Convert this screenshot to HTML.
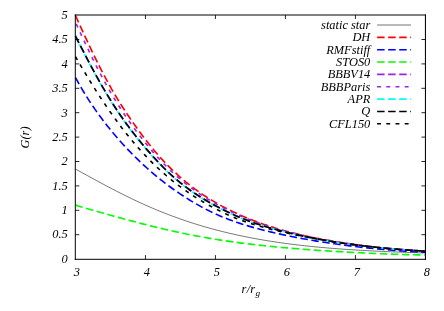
<!DOCTYPE html>
<html><head><meta charset="utf-8"><style>
html,body{margin:0;padding:0;background:#fff;}
svg{display:block;will-change:transform}
text{font-family:"Liberation Serif",serif;font-style:italic;font-size:12.4px;fill:#000}
</style></head><body>
<svg width="444" height="311" viewBox="0 0 444 311">
<rect width="444" height="311" fill="#fff"/>
<path d="M75.45,169.08 L77.20,170.02 L78.95,170.97 L80.70,171.92 L82.45,172.88 L84.20,173.83 L85.95,174.79 L87.70,175.74 L89.45,176.70 L91.20,177.66 L92.95,178.61 L94.70,179.57 L96.45,180.52 L98.20,181.47 L99.95,182.41 L101.70,183.36 L103.45,184.30 L105.20,185.23 L106.95,186.16 L108.70,187.09 L110.44,188.01 L112.19,188.93 L113.94,189.84 L115.69,190.74 L117.44,191.64 L119.19,192.54 L120.94,193.42 L122.69,194.30 L124.44,195.18 L126.19,196.04 L127.94,196.90 L129.69,197.75 L131.44,198.60 L133.19,199.44 L134.94,200.27 L136.69,201.09 L138.44,201.90 L140.19,202.71 L141.94,203.51 L143.69,204.30 L145.44,205.08 L147.19,205.85 L148.94,206.62 L150.69,207.38 L152.44,208.13 L154.19,208.87 L155.94,209.60 L157.69,210.33 L159.44,211.05 L161.19,211.75 L162.94,212.46 L164.69,213.15 L166.44,213.83 L168.19,214.51 L169.94,215.18 L171.69,215.83 L173.44,216.49 L175.19,217.13 L176.94,217.76 L178.69,218.39 L180.44,219.01 L182.18,219.62 L183.93,220.22 L185.68,220.82 L187.43,221.40 L189.18,221.98 L190.93,222.55 L192.68,223.12 L194.43,223.67 L196.18,224.22 L197.93,224.76 L199.68,225.29 L201.43,225.82 L203.18,226.34 L204.93,226.85 L206.68,227.35 L208.43,227.85 L210.18,228.33 L211.93,228.82 L213.68,229.29 L215.43,229.76 L217.18,230.22 L218.93,230.67 L220.68,231.12 L222.43,231.56 L224.18,231.99 L225.93,232.42 L227.68,232.83 L229.43,233.25 L231.18,233.65 L232.93,234.05 L234.68,234.45 L236.43,234.83 L238.18,235.22 L239.93,235.59 L241.68,235.96 L243.43,236.32 L245.18,236.68 L246.93,237.03 L248.68,237.38 L250.43,237.72 L252.17,238.05 L253.92,238.38 L255.67,238.70 L257.42,239.02 L259.17,239.33 L260.92,239.64 L262.67,239.94 L264.42,240.23 L266.17,240.52 L267.92,240.81 L269.67,241.09 L271.42,241.36 L273.17,241.63 L274.92,241.90 L276.67,242.16 L278.42,242.42 L280.17,242.67 L281.92,242.92 L283.67,243.16 L285.42,243.40 L287.17,243.63 L288.92,243.86 L290.67,244.09 L292.42,244.31 L294.17,244.53 L295.92,244.74 L297.67,244.95 L299.42,245.15 L301.17,245.35 L302.92,245.55 L304.67,245.74 L306.42,245.93 L308.17,246.12 L309.92,246.30 L311.67,246.48 L313.42,246.66 L315.17,246.83 L316.92,247.00 L318.67,247.16 L320.42,247.33 L322.16,247.49 L323.91,247.64 L325.66,247.79 L327.41,247.94 L329.16,248.09 L330.91,248.24 L332.66,248.38 L334.41,248.52 L336.16,248.65 L337.91,248.78 L339.66,248.91 L341.41,249.04 L343.16,249.17 L344.91,249.29 L346.66,249.41 L348.41,249.53 L350.16,249.64 L351.91,249.76 L353.66,249.87 L355.41,249.98 L357.16,250.08 L358.91,250.19 L360.66,250.29 L362.41,250.39 L364.16,250.49 L365.91,250.58 L367.66,250.68 L369.41,250.77 L371.16,250.86 L372.91,250.95 L374.66,251.04 L376.41,251.12 L378.16,251.21 L379.91,251.29 L381.66,251.37 L383.41,251.45 L385.16,251.53 L386.91,251.61 L388.66,251.68 L390.40,251.76 L392.15,251.83 L393.90,251.90 L395.65,251.97 L397.40,252.04 L399.15,252.11 L400.90,252.17 L402.65,252.24 L404.40,252.30 L406.15,252.37 L407.90,252.43 L409.65,252.49 L411.40,252.56 L413.15,252.62 L414.90,252.68 L416.65,252.73 L418.40,252.79 L420.15,252.85 L421.90,252.91 L423.65,252.97 L425.40,253.02" fill="none" stroke="#000" stroke-width="0.55"/>
<path d="M75.45,15.50 L77.20,19.36 L78.95,23.21 L80.70,27.05 L82.45,30.87 L84.20,34.68 L85.95,38.46 L87.70,42.21 L89.45,45.93 L91.20,49.62 L92.95,53.26 L94.70,56.86 L96.45,60.42 L98.20,63.93 L99.95,67.38 L101.70,70.79 L103.45,74.14 L105.20,77.43 L106.95,80.67 L108.70,83.85 L110.44,86.98 L112.19,90.04 L113.94,93.05 L115.69,96.01 L117.44,98.91 L119.19,101.75 L120.94,104.55 L122.69,107.29 L124.44,109.99 L126.19,112.65 L127.94,115.26 L129.69,117.83 L131.44,120.37 L133.19,122.87 L134.94,125.33 L136.69,127.77 L138.44,130.17 L140.19,132.55 L141.94,134.89 L143.69,137.20 L145.44,139.49 L147.19,141.74 L148.94,143.96 L150.69,146.15 L152.44,148.30 L154.19,150.41 L155.94,152.49 L157.69,154.53 L159.44,156.52 L161.19,158.48 L162.94,160.39 L164.69,162.25 L166.44,164.08 L168.19,165.87 L169.94,167.61 L171.69,169.32 L173.44,170.99 L175.19,172.62 L176.94,174.22 L178.69,175.78 L180.44,177.32 L182.18,178.83 L183.93,180.31 L185.68,181.76 L187.43,183.18 L189.18,184.58 L190.93,185.95 L192.68,187.29 L194.43,188.61 L196.18,189.90 L197.93,191.16 L199.68,192.40 L201.43,193.62 L203.18,194.80 L204.93,195.96 L206.68,197.10 L208.43,198.21 L210.18,199.30 L211.93,200.37 L213.68,201.42 L215.43,202.44 L217.18,203.45 L218.93,204.43 L220.68,205.40 L222.43,206.34 L224.18,207.27 L225.93,208.19 L227.68,209.08 L229.43,209.96 L231.18,210.82 L232.93,211.67 L234.68,212.50 L236.43,213.32 L238.18,214.12 L239.93,214.91 L241.68,215.68 L243.43,216.44 L245.18,217.18 L246.93,217.91 L248.68,218.63 L250.43,219.33 L252.17,220.02 L253.92,220.70 L255.67,221.37 L257.42,222.02 L259.17,222.66 L260.92,223.29 L262.67,223.91 L264.42,224.51 L266.17,225.11 L267.92,225.69 L269.67,226.26 L271.42,226.82 L273.17,227.37 L274.92,227.91 L276.67,228.44 L278.42,228.96 L280.17,229.47 L281.92,229.97 L283.67,230.46 L285.42,230.94 L287.17,231.42 L288.92,231.88 L290.67,232.33 L292.42,232.78 L294.17,233.22 L295.92,233.65 L297.67,234.07 L299.42,234.49 L301.17,234.89 L302.92,235.29 L304.67,235.69 L306.42,236.07 L308.17,236.45 L309.92,236.83 L311.67,237.20 L313.42,237.56 L315.17,237.91 L316.92,238.26 L318.67,238.60 L320.42,238.94 L322.16,239.27 L323.91,239.60 L325.66,239.92 L327.41,240.24 L329.16,240.55 L330.91,240.86 L332.66,241.16 L334.41,241.46 L336.16,241.75 L337.91,242.03 L339.66,242.32 L341.41,242.59 L343.16,242.87 L344.91,243.13 L346.66,243.40 L348.41,243.66 L350.16,243.91 L351.91,244.16 L353.66,244.40 L355.41,244.64 L357.16,244.88 L358.91,245.11 L360.66,245.34 L362.41,245.56 L364.16,245.78 L365.91,245.99 L367.66,246.20 L369.41,246.41 L371.16,246.61 L372.91,246.80 L374.66,247.00 L376.41,247.19 L378.16,247.37 L379.91,247.55 L381.66,247.73 L383.41,247.90 L385.16,248.07 L386.91,248.24 L388.66,248.40 L390.40,248.56 L392.15,248.72 L393.90,248.87 L395.65,249.02 L397.40,249.17 L399.15,249.31 L400.90,249.46 L402.65,249.59 L404.40,249.73 L406.15,249.87 L407.90,250.00 L409.65,250.13 L411.40,250.26 L413.15,250.38 L414.90,250.51 L416.65,250.63 L418.40,250.75 L420.15,250.87 L421.90,250.99 L423.65,251.10 L425.40,251.22" fill="none" stroke="#ff0000" stroke-width="1.62" stroke-dasharray="7.5 3.55"/>
<path d="M75.45,77.52 L77.20,80.72 L78.95,83.85 L80.70,86.89 L82.45,89.86 L84.20,92.76 L85.95,95.59 L87.70,98.36 L89.45,101.07 L91.20,103.72 L92.95,106.32 L94.70,108.87 L96.45,111.36 L98.20,113.81 L99.95,116.21 L101.70,118.57 L103.45,120.89 L105.20,123.17 L106.95,125.40 L108.70,127.60 L110.44,129.76 L112.19,131.89 L113.94,133.98 L115.69,136.04 L117.44,138.07 L119.19,140.07 L120.94,142.03 L122.69,143.97 L124.44,145.88 L126.19,147.75 L127.94,149.60 L129.69,151.43 L131.44,153.22 L133.19,154.99 L134.94,156.73 L136.69,158.45 L138.44,160.15 L140.19,161.81 L141.94,163.46 L143.69,165.08 L145.44,166.67 L147.19,168.25 L148.94,169.80 L150.69,171.33 L152.44,172.83 L154.19,174.32 L155.94,175.78 L157.69,177.22 L159.44,178.64 L161.19,180.04 L162.94,181.42 L164.69,182.78 L166.44,184.12 L168.19,185.44 L169.94,186.74 L171.69,188.01 L173.44,189.27 L175.19,190.52 L176.94,191.74 L178.69,192.94 L180.44,194.12 L182.18,195.29 L183.93,196.43 L185.68,197.56 L187.43,198.67 L189.18,199.75 L190.93,200.83 L192.68,201.88 L194.43,202.91 L196.18,203.92 L197.93,204.92 L199.68,205.89 L201.43,206.85 L203.18,207.79 L204.93,208.71 L206.68,209.61 L208.43,210.49 L210.18,211.36 L211.93,212.20 L213.68,213.03 L215.43,213.83 L217.18,214.62 L218.93,215.40 L220.68,216.15 L222.43,216.89 L224.18,217.61 L225.93,218.31 L227.68,219.00 L229.43,219.67 L231.18,220.32 L232.93,220.96 L234.68,221.59 L236.43,222.20 L238.18,222.79 L239.93,223.38 L241.68,223.95 L243.43,224.50 L245.18,225.05 L246.93,225.59 L248.68,226.11 L250.43,226.62 L252.17,227.12 L253.92,227.62 L255.67,228.10 L257.42,228.58 L259.17,229.05 L260.92,229.50 L262.67,229.96 L264.42,230.40 L266.17,230.84 L267.92,231.27 L269.67,231.69 L271.42,232.11 L273.17,232.52 L274.92,232.92 L276.67,233.32 L278.42,233.71 L280.17,234.10 L281.92,234.48 L283.67,234.86 L285.42,235.23 L287.17,235.60 L288.92,235.96 L290.67,236.32 L292.42,236.67 L294.17,237.02 L295.92,237.36 L297.67,237.70 L299.42,238.03 L301.17,238.36 L302.92,238.68 L304.67,239.00 L306.42,239.32 L308.17,239.63 L309.92,239.93 L311.67,240.23 L313.42,240.53 L315.17,240.83 L316.92,241.12 L318.67,241.40 L320.42,241.68 L322.16,241.96 L323.91,242.23 L325.66,242.50 L327.41,242.77 L329.16,243.03 L330.91,243.29 L332.66,243.55 L334.41,243.80 L336.16,244.04 L337.91,244.29 L339.66,244.53 L341.41,244.77 L343.16,245.00 L344.91,245.23 L346.66,245.46 L348.41,245.68 L350.16,245.90 L351.91,246.12 L353.66,246.33 L355.41,246.54 L357.16,246.75 L358.91,246.95 L360.66,247.15 L362.41,247.35 L364.16,247.54 L365.91,247.73 L367.66,247.92 L369.41,248.10 L371.16,248.28 L372.91,248.46 L374.66,248.64 L376.41,248.81 L378.16,248.98 L379.91,249.14 L381.66,249.30 L383.41,249.46 L385.16,249.62 L386.91,249.77 L388.66,249.92 L390.40,250.06 L392.15,250.21 L393.90,250.35 L395.65,250.48 L397.40,250.62 L399.15,250.74 L400.90,250.87 L402.65,250.99 L404.40,251.11 L406.15,251.23 L407.90,251.34 L409.65,251.45 L411.40,251.56 L413.15,251.66 L414.90,251.76 L416.65,251.86 L418.40,251.95 L420.15,252.04 L421.90,252.12 L423.65,252.21 L425.40,252.28" fill="none" stroke="#0000ff" stroke-width="1.62" stroke-dasharray="7.5 3.55"/>
<path d="M75.45,205.09 L77.20,205.62 L78.95,206.16 L80.70,206.68 L82.45,207.20 L84.20,207.72 L85.95,208.23 L87.70,208.74 L89.45,209.25 L91.20,209.76 L92.95,210.26 L94.70,210.76 L96.45,211.26 L98.20,211.76 L99.95,212.25 L101.70,212.74 L103.45,213.24 L105.20,213.73 L106.95,214.21 L108.70,214.70 L110.44,215.19 L112.19,215.67 L113.94,216.16 L115.69,216.64 L117.44,217.12 L119.19,217.60 L120.94,218.07 L122.69,218.55 L124.44,219.02 L126.19,219.49 L127.94,219.96 L129.69,220.43 L131.44,220.90 L133.19,221.36 L134.94,221.82 L136.69,222.28 L138.44,222.74 L140.19,223.19 L141.94,223.65 L143.69,224.09 L145.44,224.54 L147.19,224.98 L148.94,225.42 L150.69,225.86 L152.44,226.30 L154.19,226.73 L155.94,227.15 L157.69,227.58 L159.44,228.00 L161.19,228.41 L162.94,228.83 L164.69,229.24 L166.44,229.64 L168.19,230.04 L169.94,230.44 L171.69,230.83 L173.44,231.22 L175.19,231.61 L176.94,231.99 L178.69,232.37 L180.44,232.74 L182.18,233.11 L183.93,233.47 L185.68,233.83 L187.43,234.19 L189.18,234.54 L190.93,234.88 L192.68,235.22 L194.43,235.56 L196.18,235.89 L197.93,236.22 L199.68,236.55 L201.43,236.87 L203.18,237.18 L204.93,237.49 L206.68,237.80 L208.43,238.10 L210.18,238.40 L211.93,238.70 L213.68,238.99 L215.43,239.27 L217.18,239.55 L218.93,239.83 L220.68,240.10 L222.43,240.37 L224.18,240.64 L225.93,240.90 L227.68,241.16 L229.43,241.41 L231.18,241.66 L232.93,241.90 L234.68,242.15 L236.43,242.38 L238.18,242.62 L239.93,242.85 L241.68,243.08 L243.43,243.30 L245.18,243.52 L246.93,243.74 L248.68,243.95 L250.43,244.16 L252.17,244.37 L253.92,244.57 L255.67,244.77 L257.42,244.97 L259.17,245.16 L260.92,245.36 L262.67,245.55 L264.42,245.73 L266.17,245.91 L267.92,246.10 L269.67,246.27 L271.42,246.45 L273.17,246.62 L274.92,246.79 L276.67,246.96 L278.42,247.12 L280.17,247.29 L281.92,247.45 L283.67,247.60 L285.42,247.76 L287.17,247.91 L288.92,248.07 L290.67,248.22 L292.42,248.36 L294.17,248.51 L295.92,248.65 L297.67,248.79 L299.42,248.93 L301.17,249.07 L302.92,249.21 L304.67,249.34 L306.42,249.47 L308.17,249.60 L309.92,249.73 L311.67,249.86 L313.42,249.98 L315.17,250.11 L316.92,250.23 L318.67,250.35 L320.42,250.47 L322.16,250.58 L323.91,250.70 L325.66,250.81 L327.41,250.93 L329.16,251.04 L330.91,251.15 L332.66,251.26 L334.41,251.36 L336.16,251.47 L337.91,251.57 L339.66,251.68 L341.41,251.78 L343.16,251.88 L344.91,251.98 L346.66,252.08 L348.41,252.17 L350.16,252.27 L351.91,252.36 L353.66,252.45 L355.41,252.54 L357.16,252.63 L358.91,252.72 L360.66,252.81 L362.41,252.89 L364.16,252.98 L365.91,253.06 L367.66,253.14 L369.41,253.22 L371.16,253.30 L372.91,253.38 L374.66,253.45 L376.41,253.53 L378.16,253.60 L379.91,253.67 L381.66,253.74 L383.41,253.81 L385.16,253.88 L386.91,253.95 L388.66,254.01 L390.40,254.08 L392.15,254.14 L393.90,254.20 L395.65,254.26 L397.40,254.31 L399.15,254.37 L400.90,254.42 L402.65,254.48 L404.40,254.53 L406.15,254.58 L407.90,254.63 L409.65,254.67 L411.40,254.72 L413.15,254.76 L414.90,254.80 L416.65,254.84 L418.40,254.88 L420.15,254.91 L421.90,254.95 L423.65,254.98 L425.40,255.01" fill="none" stroke="#00ff00" stroke-width="1.62" stroke-dasharray="7.5 3.55"/>
<path d="M75.45,36.14 L77.20,39.53 L78.95,42.93 L80.70,46.32 L82.45,49.70 L84.20,53.07 L85.95,56.42 L87.70,59.76 L89.45,63.07 L91.20,66.35 L92.95,69.61 L94.70,72.83 L96.45,76.02 L98.20,79.17 L99.95,82.28 L101.70,85.35 L103.45,88.37 L105.20,91.35 L106.95,94.29 L108.70,97.17 L110.44,100.01 L112.19,102.80 L113.94,105.55 L115.69,108.24 L117.44,110.89 L119.19,113.49 L120.94,116.04 L122.69,118.55 L124.44,121.02 L126.19,123.44 L127.94,125.83 L129.69,128.18 L131.44,130.49 L133.19,132.76 L134.94,135.00 L136.69,137.21 L138.44,139.39 L140.19,141.55 L141.94,143.67 L143.69,145.76 L145.44,147.83 L147.19,149.87 L148.94,151.89 L150.69,153.88 L152.44,155.83 L154.19,157.76 L155.94,159.67 L157.69,161.54 L159.44,163.38 L161.19,165.18 L162.94,166.96 L164.69,168.70 L166.44,170.41 L168.19,172.08 L169.94,173.72 L171.69,175.32 L173.44,176.89 L175.19,178.42 L176.94,179.92 L178.69,181.38 L180.44,182.81 L182.18,184.20 L183.93,185.57 L185.68,186.90 L187.43,188.20 L189.18,189.48 L190.93,190.72 L192.68,191.94 L194.43,193.13 L196.18,194.29 L197.93,195.44 L199.68,196.55 L201.43,197.65 L203.18,198.73 L204.93,199.78 L206.68,200.82 L208.43,201.83 L210.18,202.83 L211.93,203.81 L213.68,204.78 L215.43,205.72 L217.18,206.66 L218.93,207.57 L220.68,208.47 L222.43,209.36 L224.18,210.23 L225.93,211.09 L227.68,211.93 L229.43,212.76 L231.18,213.58 L232.93,214.38 L234.68,215.16 L236.43,215.93 L238.18,216.69 L239.93,217.43 L241.68,218.15 L243.43,218.86 L245.18,219.56 L246.93,220.24 L248.68,220.90 L250.43,221.55 L252.17,222.18 L253.92,222.80 L255.67,223.40 L257.42,223.99 L259.17,224.56 L260.92,225.12 L262.67,225.67 L264.42,226.21 L266.17,226.73 L267.92,227.25 L269.67,227.75 L271.42,228.25 L273.17,228.73 L274.92,229.21 L276.67,229.68 L278.42,230.15 L280.17,230.60 L281.92,231.05 L283.67,231.49 L285.42,231.93 L287.17,232.36 L288.92,232.78 L290.67,233.20 L292.42,233.62 L294.17,234.03 L295.92,234.43 L297.67,234.82 L299.42,235.22 L301.17,235.60 L302.92,235.98 L304.67,236.36 L306.42,236.72 L308.17,237.09 L309.92,237.44 L311.67,237.80 L313.42,238.14 L315.17,238.48 L316.92,238.82 L318.67,239.15 L320.42,239.47 L322.16,239.79 L323.91,240.10 L325.66,240.41 L327.41,240.71 L329.16,241.01 L330.91,241.30 L332.66,241.59 L334.41,241.87 L336.16,242.15 L337.91,242.42 L339.66,242.68 L341.41,242.95 L343.16,243.20 L344.91,243.46 L346.66,243.70 L348.41,243.95 L350.16,244.19 L351.91,244.42 L353.66,244.65 L355.41,244.88 L357.16,245.10 L358.91,245.32 L360.66,245.54 L362.41,245.75 L364.16,245.95 L365.91,246.16 L367.66,246.36 L369.41,246.55 L371.16,246.74 L372.91,246.93 L374.66,247.12 L376.41,247.30 L378.16,247.47 L379.91,247.65 L381.66,247.82 L383.41,247.99 L385.16,248.15 L386.91,248.32 L388.66,248.48 L390.40,248.63 L392.15,248.78 L393.90,248.94 L395.65,249.08 L397.40,249.23 L399.15,249.37 L400.90,249.51 L402.65,249.65 L404.40,249.78 L406.15,249.91 L407.90,250.04 L409.65,250.17 L411.40,250.29 L413.15,250.42 L414.90,250.54 L416.65,250.66 L418.40,250.77 L420.15,250.89 L421.90,251.00 L423.65,251.11 L425.40,251.22" fill="none" stroke="#a020f0" stroke-width="1.62" stroke-dasharray="7.5 3.55"/>
<path d="M75.45,22.32 L77.20,26.11 L78.95,29.89 L80.70,33.66 L82.45,37.41 L84.20,41.14 L85.95,44.84 L87.70,48.51 L89.45,52.15 L91.20,55.75 L92.95,59.30 L94.70,62.82 L96.45,66.28 L98.20,69.70 L99.95,73.07 L101.70,76.38 L103.45,79.64 L105.20,82.85 L106.95,86.00 L108.70,89.09 L110.44,92.12 L112.19,95.10 L113.94,98.02 L115.69,100.89 L117.44,103.71 L119.19,106.47 L120.94,109.18 L122.69,111.84 L124.44,114.46 L126.19,117.04 L127.94,119.56 L129.69,122.05 L131.44,124.50 L133.19,126.91 L134.94,129.29 L136.69,131.63 L138.44,133.95 L140.19,136.23 L141.94,138.48 L143.69,140.71 L145.44,142.90 L147.19,145.06 L148.94,147.20 L150.69,149.30 L152.44,151.36 L154.19,153.39 L155.94,155.38 L157.69,157.34 L159.44,159.25 L161.19,161.13 L162.94,162.97 L164.69,164.76 L166.44,166.52 L168.19,168.24 L169.94,169.91 L171.69,171.56 L173.44,173.16 L175.19,174.74 L176.94,176.28 L178.69,177.80 L180.44,179.28 L182.18,180.74 L183.93,182.17 L185.68,183.57 L187.43,184.95 L189.18,186.31 L190.93,187.63 L192.68,188.94 L194.43,190.22 L196.18,191.47 L197.93,192.70 L199.68,193.90 L201.43,195.07 L203.18,196.22 L204.93,197.35 L206.68,198.45 L208.43,199.53 L210.18,200.59 L211.93,201.62 L213.68,202.64 L215.43,203.63 L217.18,204.60 L218.93,205.55 L220.68,206.48 L222.43,207.40 L224.18,208.30 L225.93,209.18 L227.68,210.04 L229.43,210.89 L231.18,211.72 L232.93,212.53 L234.68,213.33 L236.43,214.12 L238.18,214.89 L239.93,215.65 L241.68,216.40 L243.43,217.13 L245.18,217.85 L246.93,218.55 L248.68,219.25 L250.43,219.93 L252.17,220.60 L253.92,221.25 L255.67,221.90 L257.42,222.53 L259.17,223.15 L260.92,223.76 L262.67,224.36 L264.42,224.94 L266.17,225.52 L267.92,226.08 L269.67,226.64 L271.42,227.18 L273.17,227.72 L274.92,228.24 L276.67,228.76 L278.42,229.26 L280.17,229.76 L281.92,230.25 L283.67,230.73 L285.42,231.20 L287.17,231.66 L288.92,232.11 L290.67,232.56 L292.42,232.99 L294.17,233.42 L295.92,233.84 L297.67,234.26 L299.42,234.66 L301.17,235.06 L302.92,235.46 L304.67,235.84 L306.42,236.22 L308.17,236.59 L309.92,236.96 L311.67,237.32 L313.42,237.67 L315.17,238.02 L316.92,238.37 L318.67,238.70 L320.42,239.04 L322.16,239.36 L323.91,239.69 L325.66,240.00 L327.41,240.32 L329.16,240.62 L330.91,240.92 L332.66,241.22 L334.41,241.51 L336.16,241.80 L337.91,242.09 L339.66,242.37 L341.41,242.64 L343.16,242.91 L344.91,243.18 L346.66,243.44 L348.41,243.69 L350.16,243.94 L351.91,244.19 L353.66,244.43 L355.41,244.67 L357.16,244.91 L358.91,245.14 L360.66,245.36 L362.41,245.58 L364.16,245.80 L365.91,246.01 L367.66,246.22 L369.41,246.42 L371.16,246.62 L372.91,246.82 L374.66,247.01 L376.41,247.20 L378.16,247.38 L379.91,247.56 L381.66,247.74 L383.41,247.91 L385.16,248.08 L386.91,248.25 L388.66,248.41 L390.40,248.57 L392.15,248.72 L393.90,248.88 L395.65,249.03 L397.40,249.17 L399.15,249.32 L400.90,249.46 L402.65,249.60 L404.40,249.73 L406.15,249.87 L407.90,250.00 L409.65,250.13 L411.40,250.26 L413.15,250.38 L414.90,250.51 L416.65,250.63 L418.40,250.75 L420.15,250.87 L421.90,250.99 L423.65,251.10 L425.40,251.22" fill="none" stroke="#a020f0" stroke-width="1.62" stroke-dasharray="3.9 5.3" stroke-dashoffset="-1.8"/>
<path d="M75.45,35.36 L77.20,39.32 L78.95,43.07 L80.70,46.67 L82.45,50.17 L84.20,53.62 L85.95,57.02 L87.70,60.38 L89.45,63.70 L91.20,66.99 L92.95,70.24 L94.70,73.46 L96.45,76.65 L98.20,79.79 L99.95,82.89 L101.70,85.95 L103.45,88.97 L105.20,91.94 L106.95,94.87 L108.70,97.74 L110.44,100.57 L112.19,103.36 L113.94,106.09 L115.69,108.77 L117.44,111.41 L119.19,114.00 L120.94,116.55 L122.69,119.05 L124.44,121.51 L126.19,123.92 L127.94,126.30 L129.69,128.64 L131.44,130.94 L133.19,133.21 L134.94,135.45 L136.69,137.65 L138.44,139.83 L140.19,141.97 L141.94,144.09 L143.69,146.18 L145.44,148.24 L147.19,150.28 L148.94,152.29 L150.69,154.27 L152.44,156.22 L154.19,158.15 L155.94,160.04 L157.69,161.91 L159.44,163.74 L161.19,165.54 L162.94,167.31 L164.69,169.05 L166.44,170.75 L168.19,172.41 L169.94,174.04 L171.69,175.64 L173.44,177.20 L175.19,178.72 L176.94,180.21 L178.69,181.67 L180.44,183.09 L182.18,184.48 L183.93,185.84 L185.68,187.16 L187.43,188.46 L189.18,189.73 L190.93,190.97 L192.68,192.18 L194.43,193.36 L196.18,194.52 L197.93,195.66 L199.68,196.78 L201.43,197.87 L203.18,198.94 L204.93,199.99 L206.68,201.02 L208.43,202.03 L210.18,203.03 L211.93,204.01 L213.68,204.97 L215.43,205.91 L217.18,206.84 L218.93,207.75 L220.68,208.65 L222.43,209.54 L224.18,210.41 L225.93,211.26 L227.68,212.10 L229.43,212.93 L231.18,213.74 L232.93,214.54 L234.68,215.32 L236.43,216.09 L238.18,216.84 L239.93,217.58 L241.68,218.30 L243.43,219.00 L245.18,219.70 L246.93,220.37 L248.68,221.03 L250.43,221.67 L252.17,222.30 L253.92,222.92 L255.67,223.52 L257.42,224.10 L259.17,224.68 L260.92,225.23 L262.67,225.78 L264.42,226.31 L266.17,226.84 L267.92,227.35 L269.67,227.85 L271.42,228.35 L273.17,228.83 L274.92,229.31 L276.67,229.78 L278.42,230.24 L280.17,230.69 L281.92,231.14 L283.67,231.58 L285.42,232.02 L287.17,232.45 L288.92,232.87 L290.67,233.29 L292.42,233.70 L294.17,234.11 L295.92,234.51 L297.67,234.90 L299.42,235.29 L301.17,235.68 L302.92,236.06 L304.67,236.43 L306.42,236.80 L308.17,237.16 L309.92,237.52 L311.67,237.87 L313.42,238.21 L315.17,238.55 L316.92,238.88 L318.67,239.21 L320.42,239.54 L322.16,239.85 L323.91,240.16 L325.66,240.47 L327.41,240.77 L329.16,241.07 L330.91,241.36 L332.66,241.64 L334.41,241.92 L336.16,242.20 L337.91,242.47 L339.66,242.74 L341.41,243.00 L343.16,243.25 L344.91,243.51 L346.66,243.75 L348.41,244.00 L350.16,244.24 L351.91,244.47 L353.66,244.70 L355.41,244.93 L357.16,245.15 L358.91,245.36 L360.66,245.58 L362.41,245.79 L364.16,245.99 L365.91,246.20 L367.66,246.39 L369.41,246.59 L371.16,246.78 L372.91,246.97 L374.66,247.15 L376.41,247.33 L378.16,247.51 L379.91,247.68 L381.66,247.85 L383.41,248.02 L385.16,248.19 L386.91,248.35 L388.66,248.51 L390.40,248.66 L392.15,248.82 L393.90,248.96 L395.65,249.11 L397.40,249.26 L399.15,249.40 L400.90,249.54 L402.65,249.67 L404.40,249.81 L406.15,249.94 L407.90,250.07 L409.65,250.20 L411.40,250.32 L413.15,250.44 L414.90,250.56 L416.65,250.68 L418.40,250.80 L420.15,250.91 L421.90,251.02 L423.65,251.13 L425.40,251.24" fill="none" stroke="#00ffff" stroke-width="1.62" stroke-dasharray="7.5 3.55" stroke-dashoffset="1.5"/>
<path d="M75.45,36.14 L77.20,39.53 L78.95,42.93 L80.70,46.32 L82.45,49.70 L84.20,53.07 L85.95,56.42 L87.70,59.76 L89.45,63.07 L91.20,66.35 L92.95,69.61 L94.70,72.83 L96.45,76.02 L98.20,79.17 L99.95,82.28 L101.70,85.35 L103.45,88.37 L105.20,91.35 L106.95,94.29 L108.70,97.17 L110.44,100.01 L112.19,102.80 L113.94,105.55 L115.69,108.24 L117.44,110.89 L119.19,113.49 L120.94,116.04 L122.69,118.55 L124.44,121.02 L126.19,123.44 L127.94,125.83 L129.69,128.18 L131.44,130.49 L133.19,132.76 L134.94,135.00 L136.69,137.21 L138.44,139.39 L140.19,141.55 L141.94,143.67 L143.69,145.76 L145.44,147.83 L147.19,149.87 L148.94,151.89 L150.69,153.88 L152.44,155.83 L154.19,157.76 L155.94,159.67 L157.69,161.54 L159.44,163.38 L161.19,165.18 L162.94,166.96 L164.69,168.70 L166.44,170.41 L168.19,172.08 L169.94,173.72 L171.69,175.32 L173.44,176.89 L175.19,178.42 L176.94,179.92 L178.69,181.38 L180.44,182.81 L182.18,184.20 L183.93,185.57 L185.68,186.90 L187.43,188.20 L189.18,189.48 L190.93,190.72 L192.68,191.94 L194.43,193.13 L196.18,194.29 L197.93,195.44 L199.68,196.55 L201.43,197.65 L203.18,198.73 L204.93,199.78 L206.68,200.82 L208.43,201.83 L210.18,202.83 L211.93,203.81 L213.68,204.78 L215.43,205.72 L217.18,206.66 L218.93,207.57 L220.68,208.47 L222.43,209.36 L224.18,210.23 L225.93,211.09 L227.68,211.93 L229.43,212.76 L231.18,213.58 L232.93,214.38 L234.68,215.16 L236.43,215.93 L238.18,216.69 L239.93,217.43 L241.68,218.15 L243.43,218.86 L245.18,219.56 L246.93,220.24 L248.68,220.90 L250.43,221.55 L252.17,222.18 L253.92,222.80 L255.67,223.40 L257.42,223.99 L259.17,224.56 L260.92,225.12 L262.67,225.67 L264.42,226.21 L266.17,226.73 L267.92,227.25 L269.67,227.75 L271.42,228.25 L273.17,228.73 L274.92,229.21 L276.67,229.68 L278.42,230.15 L280.17,230.60 L281.92,231.05 L283.67,231.49 L285.42,231.93 L287.17,232.36 L288.92,232.78 L290.67,233.20 L292.42,233.62 L294.17,234.03 L295.92,234.43 L297.67,234.82 L299.42,235.22 L301.17,235.60 L302.92,235.98 L304.67,236.36 L306.42,236.72 L308.17,237.09 L309.92,237.44 L311.67,237.80 L313.42,238.14 L315.17,238.48 L316.92,238.82 L318.67,239.15 L320.42,239.47 L322.16,239.79 L323.91,240.10 L325.66,240.41 L327.41,240.71 L329.16,241.01 L330.91,241.30 L332.66,241.59 L334.41,241.87 L336.16,242.15 L337.91,242.42 L339.66,242.68 L341.41,242.95 L343.16,243.20 L344.91,243.46 L346.66,243.70 L348.41,243.95 L350.16,244.19 L351.91,244.42 L353.66,244.65 L355.41,244.88 L357.16,245.10 L358.91,245.32 L360.66,245.54 L362.41,245.75 L364.16,245.95 L365.91,246.16 L367.66,246.36 L369.41,246.55 L371.16,246.74 L372.91,246.93 L374.66,247.12 L376.41,247.30 L378.16,247.47 L379.91,247.65 L381.66,247.82 L383.41,247.99 L385.16,248.15 L386.91,248.32 L388.66,248.48 L390.40,248.63 L392.15,248.78 L393.90,248.94 L395.65,249.08 L397.40,249.23 L399.15,249.37 L400.90,249.51 L402.65,249.65 L404.40,249.78 L406.15,249.91 L407.90,250.04 L409.65,250.17 L411.40,250.29 L413.15,250.42 L414.90,250.54 L416.65,250.66 L418.40,250.77 L420.15,250.89 L421.90,251.00 L423.65,251.11 L425.40,251.22" fill="none" stroke="#000" stroke-width="1.62" stroke-dasharray="7.5 3.55"/>
<path d="M75.45,56.56 L77.20,59.61 L78.95,62.63 L80.70,65.62 L82.45,68.59 L84.20,71.53 L85.95,74.44 L87.70,77.33 L89.45,80.19 L91.20,83.03 L92.95,85.83 L94.70,88.61 L96.45,91.36 L98.20,94.08 L99.95,96.77 L101.70,99.43 L103.45,102.05 L105.20,104.65 L106.95,107.22 L108.70,109.76 L110.44,112.27 L112.19,114.74 L113.94,117.18 L115.69,119.59 L117.44,121.97 L119.19,124.32 L120.94,126.64 L122.69,128.92 L124.44,131.17 L126.19,133.39 L127.94,135.57 L129.69,137.73 L131.44,139.85 L133.19,141.94 L134.94,144.00 L136.69,146.02 L138.44,148.02 L140.19,149.98 L141.94,151.91 L143.69,153.81 L145.44,155.67 L147.19,157.51 L148.94,159.32 L150.69,161.09 L152.44,162.83 L154.19,164.55 L155.94,166.23 L157.69,167.89 L159.44,169.52 L161.19,171.11 L162.94,172.68 L164.69,174.22 L166.44,175.74 L168.19,177.22 L169.94,178.68 L171.69,180.11 L173.44,181.52 L175.19,182.90 L176.94,184.26 L178.69,185.59 L180.44,186.90 L182.18,188.18 L183.93,189.45 L185.68,190.69 L187.43,191.90 L189.18,193.10 L190.93,194.27 L192.68,195.43 L194.43,196.56 L196.18,197.68 L197.93,198.77 L199.68,199.85 L201.43,200.91 L203.18,201.95 L204.93,202.97 L206.68,203.98 L208.43,204.97 L210.18,205.94 L211.93,206.89 L213.68,207.83 L215.43,208.75 L217.18,209.65 L218.93,210.54 L220.68,211.41 L222.43,212.26 L224.18,213.09 L225.93,213.90 L227.68,214.70 L229.43,215.48 L231.18,216.24 L232.93,216.98 L234.68,217.71 L236.43,218.41 L238.18,219.10 L239.93,219.77 L241.68,220.43 L243.43,221.06 L245.18,221.68 L246.93,222.28 L248.68,222.87 L250.43,223.44 L252.17,224.00 L253.92,224.54 L255.67,225.07 L257.42,225.59 L259.17,226.09 L260.92,226.58 L262.67,227.07 L264.42,227.54 L266.17,228.00 L267.92,228.46 L269.67,228.91 L271.42,229.35 L273.17,229.78 L274.92,230.21 L276.67,230.63 L278.42,231.05 L280.17,231.46 L281.92,231.86 L283.67,232.26 L285.42,232.66 L287.17,233.05 L288.92,233.44 L290.67,233.82 L292.42,234.20 L294.17,234.57 L295.92,234.94 L297.67,235.30 L299.42,235.66 L301.17,236.02 L302.92,236.37 L304.67,236.71 L306.42,237.06 L308.17,237.39 L309.92,237.73 L311.67,238.05 L313.42,238.38 L315.17,238.70 L316.92,239.01 L318.67,239.32 L320.42,239.63 L322.16,239.93 L323.91,240.23 L325.66,240.52 L327.41,240.81 L329.16,241.10 L330.91,241.38 L332.66,241.66 L334.41,241.93 L336.16,242.20 L337.91,242.46 L339.66,242.72 L341.41,242.98 L343.16,243.23 L344.91,243.48 L346.66,243.73 L348.41,243.97 L350.16,244.21 L351.91,244.44 L353.66,244.67 L355.41,244.90 L357.16,245.13 L358.91,245.35 L360.66,245.56 L362.41,245.78 L364.16,245.99 L365.91,246.19 L367.66,246.40 L369.41,246.59 L371.16,246.79 L372.91,246.98 L374.66,247.17 L376.41,247.36 L378.16,247.54 L379.91,247.72 L381.66,247.90 L383.41,248.07 L385.16,248.24 L386.91,248.40 L388.66,248.57 L390.40,248.73 L392.15,248.88 L393.90,249.03 L395.65,249.18 L397.40,249.33 L399.15,249.47 L400.90,249.61 L402.65,249.75 L404.40,249.88 L406.15,250.01 L407.90,250.13 L409.65,250.26 L411.40,250.38 L413.15,250.49 L414.90,250.60 L416.65,250.71 L418.40,250.82 L420.15,250.92 L421.90,251.02 L423.65,251.12 L425.40,251.21" fill="none" stroke="#000" stroke-width="1.62" stroke-dasharray="3.9 5.3"/>
<path d="M75.3,14.5 V259.8" stroke="#000" stroke-width="1.0"/>
<path d="M425.45,14.5 V259.8" stroke="#000" stroke-width="1.05"/>
<path d="M74.8,15.0 H425.97" stroke="#000" stroke-width="1.0"/>
<path d="M74.8,259.3 H425.97" stroke="#000" stroke-width="1.0"/>
<path d="M75.3,234.70 h4.0 M425.45,234.70 h-4.0" stroke="#000" stroke-width="0.85"/>
<path d="M75.3,210.30 h4.0 M425.45,210.30 h-4.0" stroke="#000" stroke-width="0.85"/>
<path d="M75.3,185.90 h4.0 M425.45,185.90 h-4.0" stroke="#000" stroke-width="0.85"/>
<path d="M75.3,161.50 h4.0 M425.45,161.50 h-4.0" stroke="#000" stroke-width="0.85"/>
<path d="M75.3,137.10 h4.0 M425.45,137.10 h-4.0" stroke="#000" stroke-width="0.85"/>
<path d="M75.3,112.70 h4.0 M425.45,112.70 h-4.0" stroke="#000" stroke-width="0.85"/>
<path d="M75.3,88.30 h4.0 M425.45,88.30 h-4.0" stroke="#000" stroke-width="0.85"/>
<path d="M75.3,63.90 h4.0 M425.45,63.90 h-4.0" stroke="#000" stroke-width="0.85"/>
<path d="M75.3,39.50 h4.0 M425.45,39.50 h-4.0" stroke="#000" stroke-width="0.85"/>
<path d="M145.44,259.3 v-4.2 M145.44,15.0 v4.0" stroke="#000" stroke-width="0.85"/>
<path d="M215.43,259.3 v-4.2 M215.43,15.0 v4.0" stroke="#000" stroke-width="0.85"/>
<path d="M285.42,259.3 v-4.2 M285.42,15.0 v4.0" stroke="#000" stroke-width="0.85"/>
<path d="M355.41,259.3 v-4.2 M355.41,15.0 v4.0" stroke="#000" stroke-width="0.85"/>
<text x="67.8" y="262.8" text-anchor="end">0</text>
<text x="67.8" y="238.4" text-anchor="end">0.5</text>
<text x="67.8" y="214.0" text-anchor="end">1</text>
<text x="67.8" y="189.6" text-anchor="end">1.5</text>
<text x="67.8" y="165.2" text-anchor="end">2</text>
<text x="67.8" y="140.8" text-anchor="end">2.5</text>
<text x="67.8" y="116.5" text-anchor="end">3</text>
<text x="67.8" y="92.1" text-anchor="end">3.5</text>
<text x="67.8" y="67.7" text-anchor="end">4</text>
<text x="67.8" y="43.3" text-anchor="end">4.5</text>
<text x="67.8" y="18.9" text-anchor="end">5</text>
<text x="76.9" y="275.6" text-anchor="middle">3</text>
<text x="146.8" y="275.6" text-anchor="middle">4</text>
<text x="216.8" y="275.6" text-anchor="middle">5</text>
<text x="286.8" y="275.6" text-anchor="middle">6</text>
<text x="356.8" y="275.6" text-anchor="middle">7</text>
<text x="426.8" y="275.6" text-anchor="middle">8</text>
<text x="241.6" y="292.8" letter-spacing="0.25">r/r<tspan dy="3.3" font-size="9.2">g</tspan></text>
<text transform="translate(28.6,137.5) rotate(-90)" text-anchor="middle">G(r)</text>
<text x="370.3" y="28.9" text-anchor="end">static star</text>
<path d="M377.1,25.00 H411" fill="none" stroke="#000" stroke-width="0.55"/>
<text x="370.3" y="41.2" text-anchor="end">DH</text>
<path d="M377.1,37.35 H411" fill="none" stroke="#ff0000" stroke-width="1.62" stroke-dasharray="7.5 3.55"/>
<text x="370.3" y="53.6" text-anchor="end">RMFstiff</text>
<path d="M377.1,49.70 H411" fill="none" stroke="#0000ff" stroke-width="1.62" stroke-dasharray="7.5 3.55"/>
<text x="370.3" y="66.0" text-anchor="end">STOS0</text>
<path d="M377.1,62.05 H411" fill="none" stroke="#00ff00" stroke-width="1.62" stroke-dasharray="7.5 3.55"/>
<text x="370.3" y="78.3" text-anchor="end">BBBV14</text>
<path d="M377.1,74.40 H411" fill="none" stroke="#a020f0" stroke-width="1.62" stroke-dasharray="7.5 3.55"/>
<text x="370.3" y="90.7" text-anchor="end">BBBParis</text>
<path d="M377.1,86.75 H411" fill="none" stroke="#a020f0" stroke-width="1.62" stroke-dasharray="3.9 5.3"/>
<text x="370.3" y="103.0" text-anchor="end">APR</text>
<path d="M377.1,99.10 H411" fill="none" stroke="#00ffff" stroke-width="1.62" stroke-dasharray="7.5 3.55"/>
<text x="370.3" y="115.4" text-anchor="end">Q</text>
<path d="M377.1,111.45 H411" fill="none" stroke="#000" stroke-width="1.62" stroke-dasharray="7.5 3.55"/>
<text x="370.3" y="127.7" text-anchor="end">CFL150</text>
<path d="M377.1,123.80 H411" fill="none" stroke="#000" stroke-width="1.62" stroke-dasharray="3.9 5.3"/>
</svg></body></html>
